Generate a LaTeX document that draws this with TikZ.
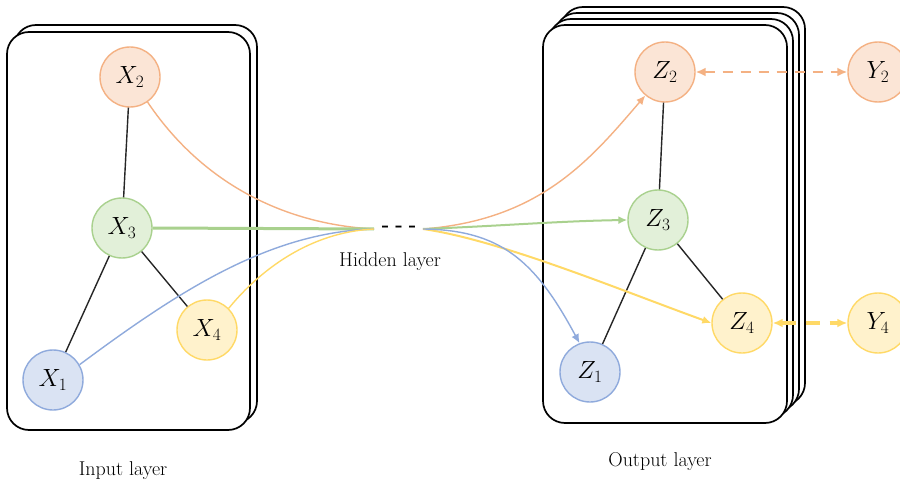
\documentclass[tikz,border=0pt]{standalone}
\usetikzlibrary{arrows.meta}
\definecolor{orFill}{HTML}{FBE5D6}\definecolor{orLine}{HTML}{F4B183}
\definecolor{grFill}{HTML}{E2F0D9}\definecolor{grLine}{HTML}{A9D18E}
\definecolor{yeFill}{HTML}{FFF2CC}\definecolor{yeLine}{HTML}{FFD966}
\definecolor{blFill}{HTML}{DAE3F3}\definecolor{blLine}{HTML}{8FAADC}
\tikzset{
  var/.style={circle, minimum size=60, inner sep=0, line width=1.4,
    font=\fontsize{23}{27}\selectfont},
  orv/.style={var, draw=orLine, fill=orFill},
  grv/.style={var, draw=grLine, fill=grFill},
  yev/.style={var, draw=yeLine, fill=yeFill},
  blv/.style={var, draw=blLine, fill=blFill},
  card/.style={draw=black, line width=1.7, fill=white, rounded corners=22},
  link/.style={draw=black!85, line width=1.4},
  flow/.style={line width=1.4},
  tip/.style={-{Latex[length=9,width=8]}},
  lbl/.style={font=\fontsize{20}{24}\selectfont}
}
\begin{document}
\begin{tikzpicture}[x=1pt,y=-1pt]
\useasboundingbox (0,0) rectangle (900,492);

% input layer: stack of two cards
\draw[card] (14,25) rectangle (257,423);
\draw[card] (7,32) rectangle (250,430);
% output layer: stack of four cards
\draw[card] (561,7) rectangle (805,405);
\draw[card] (555,13) rectangle (799,411);
\draw[card] (549,19) rectangle (793,417);
\draw[card] (543,25) rectangle (787,423);

% input variables
\node[orv] (X2) at (130,77)  {$X_2$};
\node[grv] (X3) at (122,228) {$X_3$};
\node[yev] (X4) at (207,330) {$X_4$};
\node[blv] (X1) at (53,380)  {$X_1$};

% output variables
\node[orv] (Z2) at (665,72)  {$Z_2$};
\node[grv] (Z3) at (658,220) {$Z_3$};
\node[yev] (Z4) at (742,323) {$Z_4$};
\node[blv] (Z1) at (590,372) {$Z_1$};

% targets
\node[orv] (Y2) at (878,72)  {$Y_2$};
\node[yev] (Y4) at (878,323) {$Y_4$};

% hidden layer
\coordinate (hin)  at (374,229);
\coordinate (hout) at (423,229);
\node[font=\fontsize{20}{24}\selectfont\bfseries] (dots) at (399,229)
  {-\hspace{6pt}-\hspace{6pt}-};
\node[lbl] (hl) at (390,262) {Hidden layer};
\node[lbl] (il) at (123,471) {Input layer};
\node[lbl] (ol) at (660,462) {Output layer};

% dependencies inside each layer
\draw[link] (X2) -- (X3);
\draw[link] (X3) -- (X1);
\draw[link] (X3) -- (X4);
\draw[link] (Z2) -- (Z3);
\draw[link] (Z3) -- (Z1);
\draw[link] (Z3) -- (Z4);

% inputs into the hidden layer
\draw[flow, orLine] (X2.-55) .. controls (200,180) and (280,224) .. (hin);
\draw[flow, grLine, line width=3] (X3.east) -- (hin);
\draw[flow, blLine] (X1.30) .. controls (180,290) and (270,232) .. (hin);
\draw[flow, yeLine] (X4.45) .. controls (260,270) and (310,232) .. (hin);

% hidden layer into the outputs
\draw[flow, orLine, tip] (hout) .. controls (540,220) and (590,160) .. (Z2.-130);
\draw[flow, grLine, tip, line width=2] (hout) .. controls (500,226) and (560,221) .. (Z3.west);
\draw[flow, yeLine, tip, line width=2] (hout) .. controls (500,240) and (620,290) .. (Z4.west);
\draw[flow, blLine, tip] (hout) .. controls (500,230) and (535,260) .. (Z1.110);

% output to target links
\draw[orLine, line width=2, dashed, dash pattern=on 10 off 8,
  {Latex[length=10,width=9]}-{Latex[length=10,width=9]}] (Z2) -- (Y2);
\draw[yeLine, line width=4, dashed, dash pattern=on 14 off 10,
  {Latex[length=10,width=9]}-{Latex[length=10,width=9]}] (Z4) -- (Y4);
\end{tikzpicture}
\end{document}
